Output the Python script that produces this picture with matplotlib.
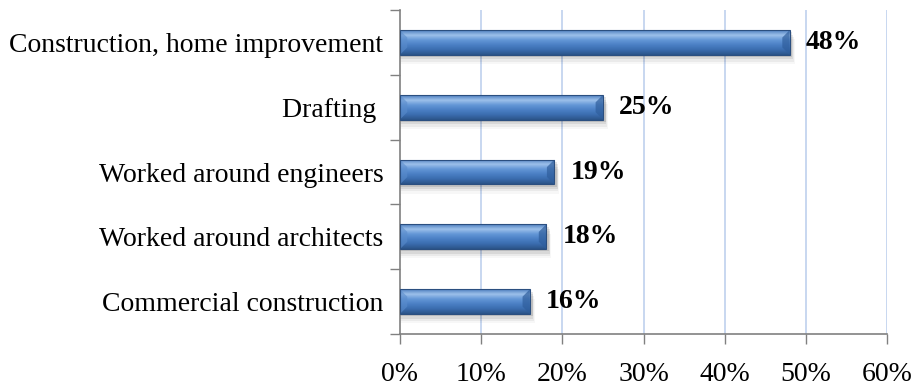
import numpy as np
import matplotlib
matplotlib.use("Agg")
import matplotlib.pyplot as plt
from matplotlib.patches import Rectangle, Polygon
from matplotlib.colors import LinearSegmentedColormap

# 数据
categories = ["Commercial construction", "Worked around architects",
              "Worked around engineers", "Drafting ", "Construction, home improvement"]
values = [16, 18, 19, 25, 48]
xticks = [0, 10, 20, 30, 40, 50, 60]

plt.rcParams["font.family"] = ["Liberation Serif", "DejaVu Serif"]

BAR_H = 0.38
# 从下(深)到上(浅)
bar_cmap = LinearSegmentedColormap.from_list(
    "bar", ["#2c5488", "#3a6cae", "#4a7fc4", "#6396d6", "#9cc0ea", "#4f80c0"])

fig = plt.figure(figsize=(9.14, 3.87), dpi=100)
ax = fig.add_axes([0.4376, 0.137, 0.5329, 0.837])

ypos = np.arange(len(categories))
ax.set_xlim(0, 60)
ax.set_ylim(-0.5, len(categories) - 0.5)

# 网格线
for xv in xticks[1:]:
    ax.axvline(xv, color="#c4d4ef", lw=1.3, zorder=0)

grad = np.linspace(0, 1, 64).reshape(-1, 1)
for y, v in zip(ypos, values):
    y0, y1 = y - BAR_H / 2, y + BAR_H / 2
    # 阴影
    for i, a in enumerate([0.10, 0.08, 0.05, 0.03]):
        d = 0.03 * (i + 1)
        ax.add_patch(Rectangle((0, y0 - d * 1.2), v + 0.25 + d * 3, BAR_H,
                               color="#000000", alpha=a, lw=0, zorder=1))
    rect = Rectangle((0, y0), v, BAR_H, facecolor="none",
                     edgecolor="#2b4f80", lw=0.8, zorder=4)
    ax.add_patch(rect)
    im = ax.imshow(grad, cmap=bar_cmap, aspect="auto",
                   extent=(0, v, y0, y1), origin="lower", zorder=2)
    im.set_clip_path(rect)
    # 两端斜面
    bw = 0.9
    bh = BAR_H * 0.3
    ax.add_patch(Polygon([(0, y0), (bw, y0 + bh), (bw, y1 - bh), (0, y1)],
                         closed=True, color="#5a8ccc", alpha=0.6, lw=0, zorder=3))
    ax.add_patch(Polygon([(v, y0), (v - bw, y0 + bh), (v - bw, y1 - bh), (v, y1)],
                         closed=True, color="#2f5e9c", alpha=0.7, lw=0, zorder=3))
    ax.text(v + 2.0, y, f"{v}%", va="center", ha="left",
            fontsize=20, fontweight="bold", color="#000000", zorder=5)

ax.set_yticks(ypos)
ax.set_yticklabels(categories, fontsize=20)
ax.set_yticks(np.arange(-0.5, len(categories)), minor=True)
ax.tick_params(axis="y", which="major", length=0, pad=12)
ax.tick_params(axis="y", which="minor", length=7, color="#808080", width=1)

ax.set_xticks(xticks)
ax.set_xticklabels([f"{t}%" for t in xticks], fontsize=20)
ax.tick_params(axis="x", length=7, color="#808080", width=1, pad=13)

for s in ["top", "right"]:
    ax.spines[s].set_visible(False)
for s in ["left", "bottom"]:
    ax.spines[s].set_color("#808080")
    ax.spines[s].set_linewidth(1.2)

fig.savefig("out.png", dpi=100)
